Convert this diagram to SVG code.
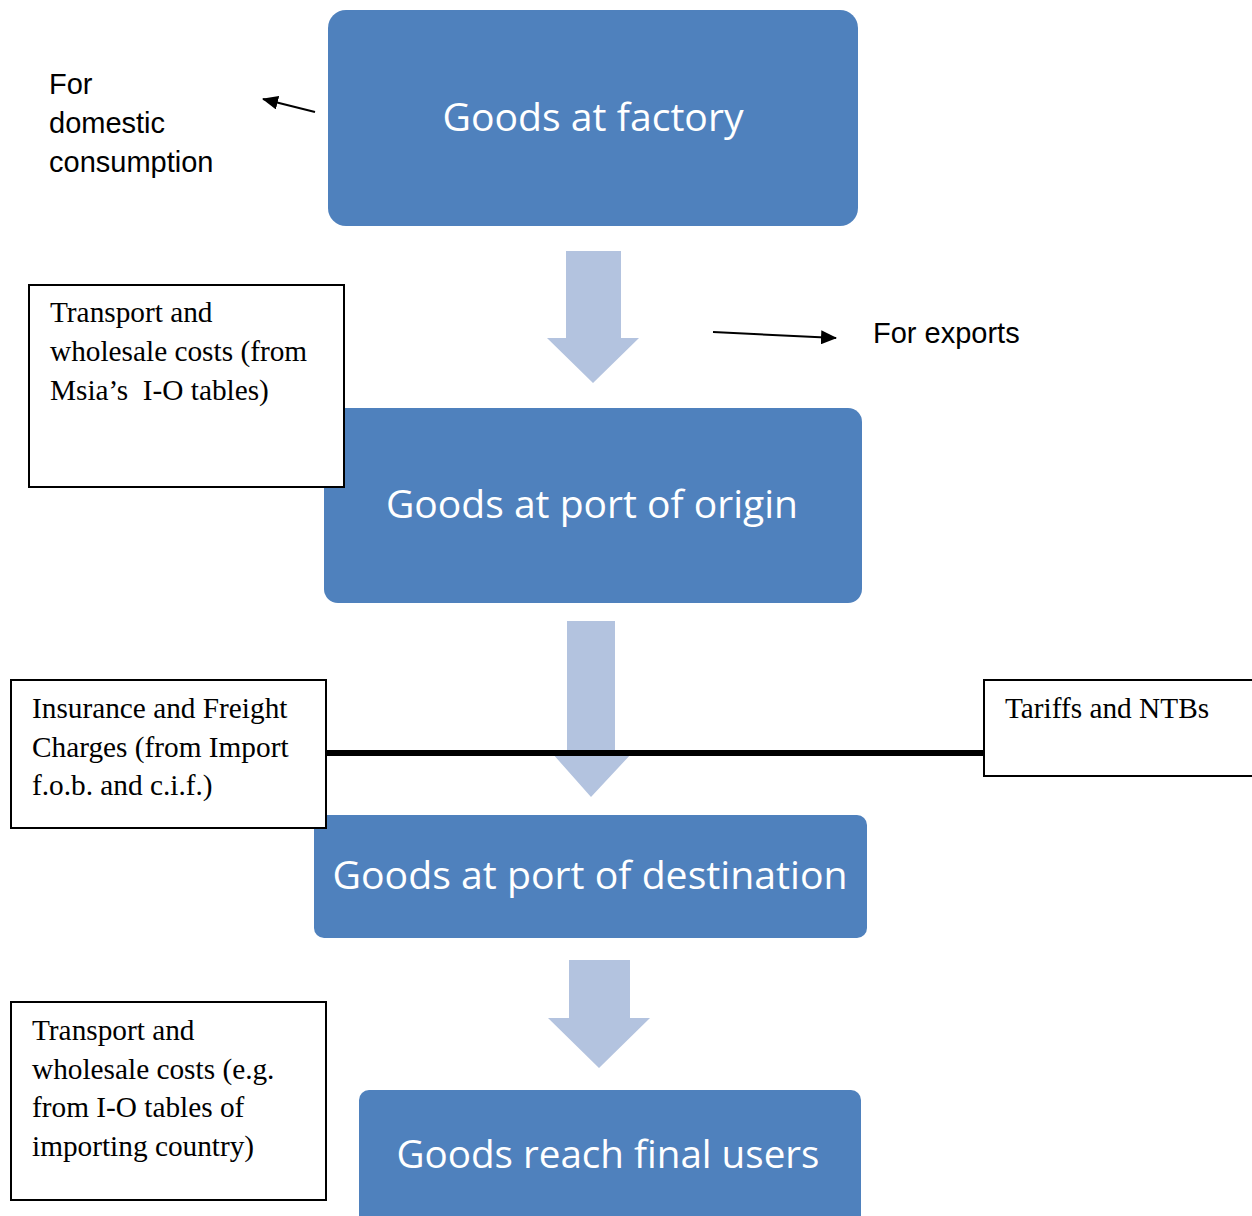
<svg xmlns="http://www.w3.org/2000/svg" width="1252" height="1216" viewBox="0 0 1252 1216">
<style>
.node{fill:#4F81BD;}
.nt{fill:#fff;font-family:"Open Sans","Noto Sans",sans-serif;font-size:38px;text-anchor:middle;}
.blk{fill:#B3C3DF;}
.note{fill:#fff;stroke:#000;stroke-width:2;}
.tt{font-family:"Liberation Serif",serif;font-size:29.3px;fill:#000;}
.at{font-family:"Liberation Sans",sans-serif;font-size:29px;fill:#000;}
.ln{stroke:#000;stroke-width:2;fill:none;}
</style>
<defs>
<marker id="ah2" viewBox="0 0 16 14" refX="15" refY="7" markerWidth="16" markerHeight="14" markerUnits="userSpaceOnUse" orient="auto">
<path d="M0,0 L16,7 L0,14 z" fill="#000"/>
</marker>
</defs>
<rect width="1252" height="1216" fill="#fff"/>

<g id="connectors">
<path class="blk" d="M566,251 H621 V338 H639 L593,383 L547,338 H566 Z"/>
<path class="blk" d="M567,621 H615 V753 H632 L591,797 L552,753 H567 Z"/>
<path class="blk" d="M569,960 H630 V1018 H650 L599,1068 L548,1018 H569 Z"/>
<line x1="326" y1="753" x2="984" y2="753" stroke="#000" stroke-width="6"/>
<line class="ln" x1="315" y1="112" x2="263" y2="99" marker-end="url(#ah2)"/>
<line class="ln" x1="713" y1="332" x2="836" y2="338" marker-end="url(#ah2)"/>
</g>

<g id="n-factory">
<rect class="node" x="328" y="10" width="530" height="216" rx="18"/>
<text class="nt" x="593" y="131" textLength="301" lengthAdjust="spacingAndGlyphs">Goods at factory</text>
</g>
<g id="n-origin">
<rect class="node" x="324" y="408" width="538" height="195" rx="14"/>
<text class="nt" x="592" y="518" textLength="412" lengthAdjust="spacingAndGlyphs">Goods at port of origin</text>
</g>
<g id="n-destination">
<rect class="node" x="314" y="815" width="553" height="123" rx="10"/>
<text class="nt" x="590" y="889" textLength="515" lengthAdjust="spacingAndGlyphs">Goods at port of destination</text>
</g>
<g id="n-final">
<rect class="node" x="359" y="1090" width="502" height="140" rx="10"/>
<text class="nt" x="608" y="1168" textLength="423" lengthAdjust="spacingAndGlyphs">Goods reach final users</text>
</g>

<g id="t-domestic">
<text class="at" x="49" y="94">For</text>
<text class="at" x="49" y="133">domestic</text>
<text class="at" x="49" y="172">consumption</text>
</g>
<g id="t-exports">
<text class="at" x="873" y="343">For exports</text>
</g>

<g id="b-transport1">
<rect class="note" x="29" y="285" width="315" height="202"/>
<text class="tt" x="50" y="322">Transport and</text>
<text class="tt" x="50" y="361">wholesale costs (from</text>
<text class="tt" x="50" y="400" xml:space="preserve">Msia’s  I-O tables)</text>
</g>
<g id="b-insurance">
<rect class="note" x="11" y="680" width="315" height="148"/>
<text class="tt" x="32" y="718">Insurance and Freight</text>
<text class="tt" x="32" y="757">Charges (from Import</text>
<text class="tt" x="32" y="795">f.o.b. and c.i.f.)</text>
</g>
<g id="b-tariffs">
<rect class="note" x="984" y="680" width="270" height="96"/>
<text class="tt" x="1005" y="718">Tariffs and NTBs</text>
</g>
<g id="b-transport2">
<rect class="note" x="11" y="1002" width="315" height="198"/>
<text class="tt" x="32" y="1040">Transport and</text>
<text class="tt" x="32" y="1079">wholesale costs (e.g.</text>
<text class="tt" x="32" y="1117">from I-O tables of</text>
<text class="tt" x="32" y="1156">importing country)</text>
</g>
</svg>
